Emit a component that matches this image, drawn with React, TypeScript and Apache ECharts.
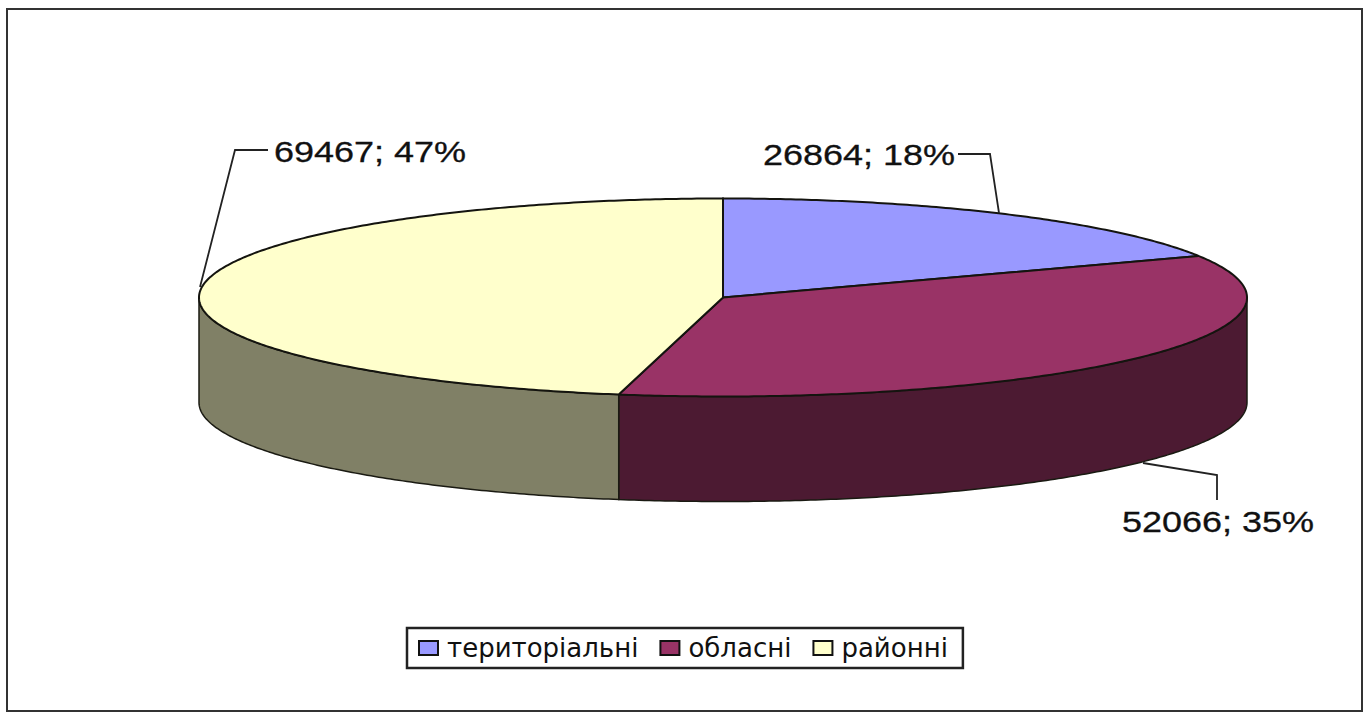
import React, { useEffect, useRef } from "react";
import * as echarts from "echarts";

const categories = ["територіальні", "обласні", "районні"];
const values = [26864, 52066, 69467];
const percents = [18, 35, 47];
const topColors = ["#9999FF", "#993366", "#FFFFCC"];
const sideColors = ["#4C4C80", "#4C1A32", "#808066"];

const WIDTH = 1366;
const HEIGHT = 713;
const CX = 723;
const CY = 297.5;
const RX = 524;
const RY = 99;
const DEPTH = 105;
const FONT = "'Liberation Sans', Arial, sans-serif";

const leaders = [
  { line: [[990, 154], [958, 154]], join: [[999, 213], [990, 154]], text: [763, 155] },
  { line: [[1217, 475], [1217, 500]], join: [[1143, 463], [1217, 475]], text: [1122, 522] },
  { line: [[235, 150], [268, 150]], join: [[200, 287], [235, 150]], text: [274, 152] },
];

const total = values.reduce((a, b) => a + b, 0);

function rim(a: number, dy = 0) {
  return [CX + RX * Math.sin(a), CY - RY * Math.cos(a) + dy];
}

function arcPoints(a0: number, a1: number, dy = 0) {
  const n = Math.max(2, Math.ceil(Math.abs(a1 - a0) / 0.01));
  const pts: number[][] = [];
  for (let i = 0; i <= n; i++) pts.push(rim(a0 + ((a1 - a0) * i) / n, dy));
  return pts;
}

function makeRenderItem(idx: number) {
  return (_params: any, api: any) => {
    const v = api.value(0);
    const before = api.value(1);
    const a0 = (before / total) * Math.PI * 2;
    const a1 = ((before + v) / total) * Math.PI * 2;
    const children: any[] = [];
    const s0 = Math.max(a0, Math.PI / 2);
    const s1 = Math.min(a1, (Math.PI * 3) / 2);
    if (s1 > s0) {
      const upper = arcPoints(s0, s1);
      const lower = arcPoints(s1, s0, DEPTH);
      children.push({
        type: "polygon",
        shape: { points: upper.concat(lower) },
        style: { fill: sideColors[idx], stroke: "#1a1a12", lineWidth: 1.5 },
      });
    }
    children.push({
      type: "polygon",
      shape: { points: [[CX, CY]].concat(arcPoints(a0, a1)) },
      style: { fill: topColors[idx], stroke: "#14140f", lineWidth: 2 },
    });
    const lead = leaders[idx];
    children.push({
      type: "polyline",
      shape: { points: [lead.join[0], lead.join[1], lead.line[1]] },
      style: { fill: "none", stroke: "#222", lineWidth: 1.8 },
    });
    children.push({
      type: "text",
      x: lead.text[0],
      y: lead.text[1],
      scaleX: 1.2,
      style: {
        text: `${v}; ${percents[idx]}%`,
        fontFamily: FONT,
        fontSize: 30,
        fill: "#111",
        stroke: "#111",
        lineWidth: 0.3,
        align: "left",
        verticalAlign: "middle",
      },
    });
    return { type: "group", children };
  };
}

export default function App() {
  const ref = useRef<HTMLDivElement>(null);
  useEffect(() => {
    document.body.style.margin = "0";
    document.body.style.overflow = "hidden";
    const chart = echarts.init(ref.current!, undefined, { renderer: "svg" });
    let acc = 0;
    const series = categories.map((name, i) => {
      const before = acc;
      acc += values[i];
      return {
        type: "custom",
        name,
        coordinateSystem: "none",
        renderItem: makeRenderItem(i),
        itemStyle: { color: topColors[i], borderColor: "#111", borderWidth: 2 },
        data: [[values[i], before]],
        silent: true,
      };
    });
    chart.setOption({
      animation: false,
      backgroundColor: "#fff",
      legend: {
        data: categories.map((name) => ({ name, icon: "rect" })),
        left: 407,
        top: 628,
        padding: [7, 15, 7, 11],
        itemGap: 21,
        itemWidth: 19,
        itemHeight: 14,
        borderColor: "#222",
        borderWidth: 2.5,
        selectedMode: false,
        textStyle: { fontFamily: "'DejaVu Sans', sans-serif", fontSize: 26, color: "#111", padding: [0, 0, 0, 4] },
      },
      graphic: [
        {
          type: "rect",
          z: -1,
          shape: { x: 7, y: 9, width: 1355, height: 702 },
          style: { fill: "#fff", stroke: "#333", lineWidth: 2 },
        },
      ],
      series,
    });
    return () => chart.dispose();
  }, []);
  return <div ref={ref} style={{ position: "absolute", left: 0, top: 0, width: WIDTH, height: HEIGHT }} />;
}
